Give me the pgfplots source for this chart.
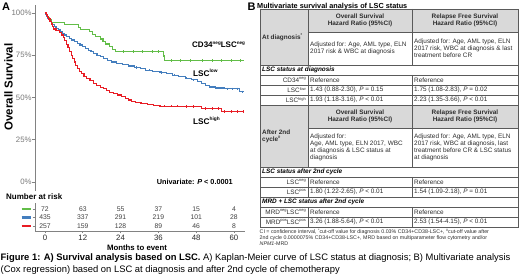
\documentclass[border=0pt]{standalone}
\usepackage{fontspec}
\setmainfont{Liberation Sans}
\usepackage{pgfplots}
\usepackage{pgfplotstable}
\pgfplotsset{compat=1.18}

\definecolor{kmgreen}{RGB}{98,189,72}
\definecolor{kmblue}{RGB}{68,126,190}
\definecolor{kmred}{RGB}{232,28,36}
\definecolor{axgray}{RGB}{130,130,130}
\definecolor{tickgray}{RGB}{120,120,120}
\definecolor{cellgray}{RGB}{217,217,217}
\definecolor{tabline}{RGB}{90,90,90}
\definecolor{tabtext}{RGB}{45,45,45}

\newcommand\fsz[2]{\fontsize{#1}{#2}\selectfont}
% small superscript: #1 size, #2 text
\newcommand\sps[2]{\raisebox{0.42em}{\fontsize{#1}{#1}\selectfont #2}}

\pgfplotstableread{
x y label
0 3 72
12 3 63
24 3 55
36 3 37
48 3 15
60 3 4
0 2 435
12 2 337
24 2 291
36 2 219
48 2 101
60 2 28
0 1 257
12 1 159
24 1 128
36 1 89
48 1 46
60 1 8
}\risktable

\begin{document}
\begin{tikzpicture}[x=1pt,y=1pt]
\useasboundingbox (0,0) rectangle (520,276);

% ---------------- Kaplan-Meier panel ----------------
\begin{axis}[
  at={(35pt,85pt)}, anchor=south west, scale only axis,
  width=210pt, height=186pt,
  xmin=-3.17, xmax=63.5, ymin=-5.3, ymax=104.7,
  axis x line=none, axis y line=left,
  axis line style={-, draw=axgray, line width=0.9pt},
  ytick={0,25,50,75,100},
  yticklabel={\pgfmathprintnumber{\tick}\%},
  /pgf/number format/assume math mode=true,
  yticklabel style={font=\fsz{7.8}{8}, text=tickgray, inner sep=0.6pt},
  tick style={draw=axgray, line width=0.7pt},
  tick align=outside, major tick length=2.6pt,
]
\addplot[const plot, kmgreen, line width=1.15pt] coordinates {
(0,100)(0.4,98.6)(0.9,97.2)(1.5,95.8)(2.2,94.4)(6.3,93.0)(10.6,91.6)(11.3,90.2)
(14.0,88.8)(15.2,87.4)(16.0,86.0)(17.6,84.6)(18.4,83.1)(19.2,81.6)(20.5,80.1)
(21.3,78.6)(22.3,77.1)(37.6,74.5)(38.0,71.9)(63.2,71.9)};
\addplot[const plot, kmblue, line width=1.15pt] coordinates {
(0,100)(0.3,99)(0.6,98)(0.9,97)(1.2,96)(1.6,95)(2.0,94)(2.5,93)(3.0,92)(3.5,91)
(4.2,90)(4.8,89)(5.5,88)(6.2,87)(6.9,86)(7.7,85)(8.5,84)(9.3,83)(10.2,82)(11.1,81)
(12.0,80)(12.9,79)(13.8,78)(14.6,77)(15.5,76)(16.5,75)(17.5,74)(18.6,73)(19.8,72)
(21.2,71)(22.8,70.2)(24.5,69.4)(26.5,68.6)(28.5,67.8)(30.3,67.0)(32.0,66.2)(34.0,65.5)
(36.5,64.8)(38.5,64.0)(40.5,63.2)(42.5,62.3)(44.5,61.4)(46.5,60.4)(48.3,59.4)(49.8,58.3)
(51.0,57.2)(52.3,56.2)(54.0,55.6)(57.0,55.1)(61.7,53.3)(63.2,53.3)};
\addplot[const plot, kmred, line width=1.15pt] coordinates {
(0,100)(0.4,98.8)(0.8,97.6)(1.2,96.4)(1.6,95)(2.0,93.5)(2.4,92)(2.8,90.5)(3.5,89.5)
(4.5,88.5)(5.3,87)(5.8,85.5)(6.3,83.5)(6.8,81.5)(7.3,79.5)(7.8,77)(8.3,75)(8.8,73)
(9.3,71)(9.8,69)(10.3,67.2)(10.9,65.5)(11.6,64)(12.4,62.5)(13.3,61.2)(14.3,60)
(15.3,58.5)(16.4,57)(17.5,56)(18.5,55.2)(19.5,54.2)(20.6,53.2)(21.8,52.3)(23.0,51.5)
(24.3,50.5)(25.5,49.5)(26.5,48.5)(27.5,47.7)(28.8,47)(30.5,46.4)(32.5,45.8)(34.5,45.2)
(36.5,44.8)(44,44.6)(49.6,43.4)(56.0,41.8)(63.2,41.8)};
% censoring marks
\addplot[only marks, mark=|, mark size=1.2pt, kmgreen, line width=0.5pt] coordinates {
(25,77.1)(28,77.1)(31,77.1)(34,77.1)(36,77.1)(40,71.9)(43,71.9)(46,71.9)(50,71.9)
(53,71.9)(56,71.9)(59,71.9)(62,71.9)};
\addplot[only marks, mark=|, mark size=1.2pt, kmblue, line width=0.5pt] coordinates {
(29,67.8)(33,66.2)(37,64.8)(41,63.2)(45,61.4)(47,60.4)(53,56.2)(55,55.6)(58,55.1)
(59.5,55.1)(61,55.1)(62.5,53.3)};
\addplot[only marks, mark=|, mark size=1.2pt, kmred, line width=0.5pt] coordinates {
(38,44.8)(40,44.8)(42,44.8)(45,44.6)(47,44.6)(51,43.4)(53,43.4)(55,43.4)(57,41.8)
(59,41.8)(61,41.8)(62.8,41.8)};
\end{axis}

% ---------------- Number at risk ----------------
\begin{axis}[
  at={(35pt,45pt)}, anchor=south west, scale only axis,
  width=210pt, height=28pt,
  xmin=-3.17, xmax=63.5, ymin=0.41, ymax=3.7,
  axis x line=bottom, axis y line=left,
  axis line style={-, draw=axgray, line width=0.9pt},
  xtick={0,12,24,36,48,60},
  ytick={1,2,3},
  yticklabels={{\textcolor{kmred}{\rule{10pt}{2.6pt}}},{\textcolor{kmblue}{\rule{10pt}{2.6pt}}},{\textcolor{kmgreen}{\rule{10pt}{2.6pt}}}},
  /pgf/number format/assume math mode=true,
  xticklabel style={font=\fsz{7.8}{8}, text=black!85, inner sep=1pt},
  yticklabel style={inner sep=0.8pt},
  tick style={draw=axgray, line width=0.7pt},
  tick align=outside, major tick length=2.5pt,
]
\addplot[draw=none, mark=none, nodes near coords, point meta=explicit symbolic,
  nodes near coords style={anchor=center, font=\fsz{6.8}{7}, text=black!75, inner sep=0pt}]
  table[x=x, y=y, meta=label] {\risktable};
\end{axis}

% ---------------- Panel A texts ----------------
\node[font=\bfseries\fsz{11}{12}, inner sep=0pt] at (6,269) {A};
\node[font=\bfseries\fsz{11.5}{12}, rotate=90, inner sep=0pt] at (8.5,189) {Overall Survival};
\node[font=\bfseries\fsz{8}{9}, anchor=west, inner sep=0pt] at (192,231) {CD34\sps{4.6}{neg}LSC\sps{4.6}{neg}};
\node[font=\bfseries\fsz{8.2}{9}, anchor=west, inner sep=0pt] at (193,203) {LSC\sps{4.8}{low}};
\node[font=\bfseries\fsz{8.2}{9}, anchor=west, inner sep=0pt] at (193,155) {LSC\sps{4.8}{high}};
\node[font=\bfseries\fsz{7.3}{8}, anchor=east, inner sep=0pt] at (233,94) {Univariate: \textit{P} < 0.0001};
\node[font=\bfseries\fsz{8}{9}, anchor=west, inner sep=0pt] at (6,79) {Number at risk};
\node[font=\bfseries\fsz{7.8}{8}, inner sep=0pt] at (137,28) {Months to event};

% ---------------- Panel B ----------------
\node[font=\bfseries\fsz{11}{12}, inner sep=0pt] at (251.5,269) {B};
\node[font=\bfseries\fsz{7.3}{8}, anchor=west, inner sep=0pt] at (257,269) {Multivariate survival analysis of LSC status};

% fills
\fill[cellgray] (260,267) rectangle (308,211);
\fill[cellgray] (308,267) rectangle (518,244);
\fill[cellgray] (260,171) rectangle (308,109);
\fill[cellgray] (308,171) rectangle (518,148);
% grid
\begin{scope}[draw=tabline, line width=0.5pt]
\draw (260,267) rectangle (518,49);
\foreach \yy in {211,201,191,181,171,109,99,89,79,69,59} \draw (260,\yy) -- (518,\yy);
\draw (308,244) -- (518,244);
\draw (308,148) -- (518,148);
\foreach \xx in {308,412} {
  \draw (\xx,267) -- (\xx,211);
  \draw (\xx,201) -- (\xx,109);
  \draw (\xx,99) -- (\xx,79);
  \draw (\xx,69) -- (\xx,49);
}
\end{scope}

\tikzset{tc/.style={font=\fsz{6.4}{7.1}, text=tabtext, inner sep=0pt, align=left},
         th/.style={font=\bfseries\fsz{6.4}{7.1}, text=tabtext, inner sep=0pt, align=center},
         ts/.style={font=\bfseries\itshape\fsz{6.4}{7.1}, text=black, inner sep=0pt, anchor=west}}

% header 1
\node[th] at (360,255.5) {Overall Survival\\Hazard Ratio (95\%CI)};
\node[th] at (465,255.5) {Relapse Free Survival\\Hazard Ratio (95\%CI)};
\node[th, anchor=west, align=left] at (262,239) {At diagnosis\sps{4}{*}};
\node[tc, anchor=west] at (310,227.5) {Adjusted for: Age, AML type, ELN\\2017 risk \& WBC at diagnosis};
\node[tc, anchor=west] at (414,227.5) {Adjusted for: Age, AML type, ELN\\2017 risk, WBC at diagnosis \& last\\treatment before CR};
\node[ts] at (262,206) {LSC status at diagnosis};
\node[tc, anchor=east] at (306,196) {CD34\sps{4}{neg}};
\node[tc, anchor=west] at (310,196) {Reference};
\node[tc, anchor=west] at (414,196) {Reference};
\node[tc, anchor=east] at (306,186) {LSC\sps{4}{low}};
\node[tc, anchor=west] at (310,186) {1.43 (0.88-2.30), \textit{P} = 0.15};
\node[tc, anchor=west] at (414,186) {1.75 (1.08-2.83), \textit{P} = 0.02};
\node[tc, anchor=east] at (306,176) {LSC\sps{4}{high}};
\node[tc, anchor=west] at (310,176) {1.93 (1.18-3.16), \textit{P} < 0.01};
\node[tc, anchor=west] at (414,176) {2.23 (1.35-3.66), \textit{P} < 0.01};
% header 2
\node[th] at (360,159.5) {Overall Survival\\Hazard Ratio (95\%CI)};
\node[th] at (465,159.5) {Relapse Free Survival\\Hazard Ratio (95\%CI)};
\node[th, anchor=west, align=left] at (262,140) {After 2nd\\cycle\sps{4}{\#}};
\node[tc, anchor=west] at (310,128.5) {Adjusted for:\\Age, AML type, ELN 2017, WBC\\at diagnosis \& LSC status at\\diagnosis};
\node[tc, anchor=west] at (414,128.5) {Adjusted for: Age, AML type, ELN\\2017 risk, WBC at diagnosis, last\\treatment before CR \& LSC status\\at diagnosis};
\node[ts] at (262,104) {LSC status after 2nd cycle};
\node[tc, anchor=east] at (306,94) {LSC\sps{4}{neg}};
\node[tc, anchor=west] at (310,94) {Reference};
\node[tc, anchor=west] at (414,94) {Reference};
\node[tc, anchor=east] at (306,84) {LSC\sps{4}{pos}};
\node[tc, anchor=west] at (310,84) {1.80 (1.22-2.65), \textit{P} < 0.01};
\node[tc, anchor=west] at (414,84) {1.54 (1.09-2.18), \textit{P} = 0.01};
\node[ts] at (262,74) {MRD + LSC status after 2nd cycle};
\node[tc, anchor=east] at (306,64) {MRD\sps{4}{neg}LSC\sps{4}{neg}};
\node[tc, anchor=west] at (310,64) {Reference};
\node[tc, anchor=west] at (414,64) {Reference};
\node[tc, anchor=east] at (306,54) {MRD\sps{4}{pos}LSC\sps{4}{pos}};
\node[tc, anchor=west] at (310,54) {3.26 (1.88-5.64), \textit{P} < 0.01};
\node[tc, anchor=west] at (414,54) {2.53 (1.54-4.15), \textit{P} < 0.01};

% footnote
\node[anchor=north west, inner sep=0pt, align=left, font=\fsz{5.3}{6.2}, text=tabtext] at (259.5,47.5)
 {CI = confidence interval, \sps{3.6}{*}cut-off value for diagnosis 0.03\% CD34+CD38-LSC+, \sps{3.6}{\#}cut-off value after\\
  2nd cycle 0.0000075\% CD34+CD38-LSC+, MRD based on multiparameter flow cytometry and/or\\
  \textit{NPM1}-MRD};

% caption
\node[anchor=base west, inner sep=0pt, font=\fsz{9.4}{11}] at (0.5,15)
 {\textbf{Figure 1: A) Survival analysis based on LSC.} A) Kaplan-Meier curve of LSC status at diagnosis; B) Multivariate analysis};
\node[anchor=base west, inner sep=0pt, font=\fsz{9.4}{11}] at (0.5,3.4)
 {(Cox regression) based on LSC at diagnosis and after 2nd cycle of chemotherapy};
\end{tikzpicture}
\end{document}
